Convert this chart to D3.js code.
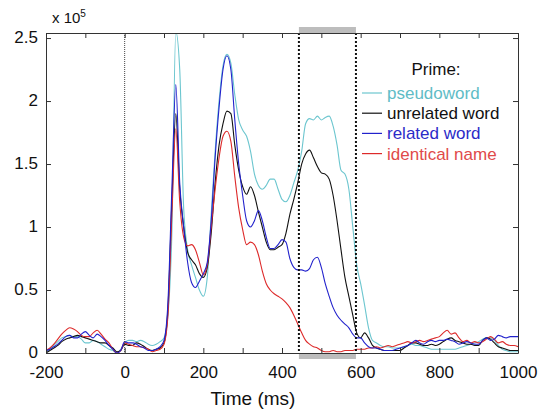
<!DOCTYPE html>
<html>
<head>
<meta charset="utf-8">
<script src="https://cdn.jsdelivr.net/npm/d3@7"></script>
<style>
  body { margin: 0; background: #fff; }
  text { font-family: "Liberation Sans", Arial, sans-serif; }
</style>
</head>
<body>
<svg></svg>
<script>
const margins = {t: 33, r: 21, b: 58, l: 46};
const size = {w: 539, h: 411};

// time grid, ms (every 10 ms)
const times = d3.range(-200, 1001, 10);

// values in units of 10^5
const pseudoword = [
  0.01, 0.03, 0.06, 0.09, 0.12, 0.13, 0.14, 0.13, 0.13, 0.11,
  0.08, 0.08, 0.10, 0.09, 0.07, 0.05, 0.03, 0.02, 0.00, 0.03,
  0.08, 0.10, 0.10, 0.09, 0.10, 0.09, 0.07, 0.06, 0.07, 0.09,
  0.12, 0.30, 0.95, 2.55, 2.25, 1.15, 0.82, 0.70, 0.60, 0.50,
  0.45, 0.60, 1.10, 1.60, 2.00, 2.28, 2.37, 2.30, 2.05, 1.85,
  1.77, 1.72, 1.60, 1.42, 1.33, 1.30, 1.33, 1.38, 1.38, 1.30,
  1.22, 1.20, 1.25, 1.35, 1.45, 1.60, 1.82, 1.86, 1.85, 1.88,
  1.85, 1.87, 1.88, 1.80, 1.65, 1.45, 1.42, 1.30, 1.00, 0.70,
  0.55, 0.38, 0.20, 0.10, 0.08, 0.06, 0.05, 0.05, 0.04, 0.04,
  0.04, 0.05, 0.06, 0.07, 0.06, 0.06, 0.05, 0.04, 0.03, 0.03,
  0.03, 0.03, 0.03, 0.03, 0.03, 0.04, 0.05, 0.06, 0.07, 0.08,
  0.09, 0.11, 0.12, 0.12, 0.10, 0.06, 0.03, 0.02, 0.01, 0.01,
  0.01
];
const unrelatedWord = [
  0.00, 0.02, 0.04, 0.06, 0.09, 0.11, 0.12, 0.13, 0.14, 0.13,
  0.12, 0.11, 0.10, 0.09, 0.08, 0.08, 0.06, 0.04, 0.01, 0.02,
  0.07, 0.06, 0.06, 0.08, 0.07, 0.05, 0.03, 0.02, 0.03, 0.04,
  0.08, 0.35, 1.20, 1.90, 1.30, 1.00, 0.80, 0.74, 0.70, 0.63,
  0.60, 0.68, 0.95, 1.35, 1.65, 1.82, 1.92, 1.90, 1.65, 1.45,
  1.32, 1.26, 1.32, 1.25, 1.12, 1.00, 0.88, 0.82, 0.82, 0.84,
  0.86, 0.95, 1.10, 1.22, 1.35, 1.50, 1.58, 1.61, 1.55, 1.48,
  1.43, 1.42, 1.38, 1.25, 1.05, 0.82, 0.60, 0.45, 0.30, 0.16,
  0.12, 0.16, 0.12, 0.06, 0.04, 0.03, 0.02, 0.02, 0.02, 0.02,
  0.02, 0.04, 0.06, 0.08, 0.08, 0.07, 0.06, 0.06, 0.07, 0.06,
  0.07, 0.09, 0.11, 0.12, 0.10, 0.09, 0.08, 0.07, 0.07, 0.06,
  0.06, 0.10, 0.12, 0.11, 0.08, 0.05, 0.04, 0.03, 0.02, 0.02,
  0.02
];
const relatedWord = [
  0.02, 0.03, 0.05, 0.07, 0.10, 0.13, 0.14, 0.12, 0.12, 0.15,
  0.17, 0.14, 0.12, 0.15, 0.13, 0.10, 0.06, 0.03, 0.00, 0.02,
  0.09, 0.08, 0.08, 0.07, 0.05, 0.04, 0.02, 0.02, 0.03, 0.05,
  0.10, 0.40, 1.30, 2.13, 1.35, 1.00, 0.72, 0.56, 0.52, 0.57,
  0.63, 0.72, 1.05, 1.55, 1.95, 2.25, 2.36, 2.25, 1.85, 1.50,
  1.25, 1.05, 1.00, 1.05, 1.13, 1.05, 0.92, 0.83, 0.83, 0.86,
  0.90, 0.88, 0.75, 0.68, 0.66, 0.66, 0.65, 0.67, 0.74, 0.76,
  0.68, 0.55, 0.45, 0.36, 0.30, 0.26, 0.23, 0.20, 0.15, 0.12,
  0.12, 0.08, 0.05, 0.04, 0.04, 0.03, 0.02, 0.02, 0.02, 0.03,
  0.04, 0.05, 0.06, 0.08, 0.10, 0.08, 0.07, 0.09, 0.10, 0.09,
  0.10, 0.10, 0.11, 0.10, 0.09, 0.07, 0.08, 0.09, 0.08, 0.07,
  0.07, 0.10, 0.12, 0.10, 0.11, 0.14, 0.13, 0.12, 0.13, 0.13,
  0.13
];
const identicalName = [
  0.02, 0.04, 0.07, 0.11, 0.15, 0.18, 0.20, 0.19, 0.17, 0.14,
  0.13, 0.13, 0.16, 0.18, 0.15, 0.11, 0.08, 0.03, 0.00, 0.02,
  0.08, 0.07, 0.06, 0.05, 0.05, 0.04, 0.03, 0.01, 0.02, 0.03,
  0.07, 0.30, 1.10, 1.78, 1.20, 0.92, 0.85, 0.86, 0.82, 0.72,
  0.62, 0.70, 1.00, 1.30, 1.55, 1.72, 1.76, 1.68, 1.40, 1.15,
  0.98, 0.86, 0.88, 0.86, 0.78, 0.65, 0.55, 0.50, 0.47, 0.45,
  0.43, 0.40, 0.36, 0.30, 0.23, 0.16, 0.10, 0.07, 0.05, 0.04,
  0.02, 0.01, 0.01, 0.02, 0.01, 0.01, 0.02, 0.02, 0.02, 0.03,
  0.03, 0.03, 0.04, 0.04, 0.05, 0.04, 0.05, 0.06, 0.05, 0.06,
  0.07, 0.08, 0.09, 0.08, 0.09, 0.10, 0.09, 0.10, 0.11, 0.12,
  0.13, 0.16, 0.18, 0.15, 0.16, 0.12, 0.09, 0.10, 0.08, 0.09,
  0.08, 0.09, 0.11, 0.13, 0.11, 0.08, 0.09, 0.07, 0.06, 0.06,
  0.05
];

const seriesNames = ['pseudoword', 'unrelated word', 'related word', 'identical name'];
const seriesValues = [pseudoword, unrelatedWord, relatedWord, identicalName];
const lineColors = ['#6cc6cf', '#111111', '#2222cc', '#dd2a2a'];
const textColors = ['#5fbcc6', '#111111', '#2b2bc8', '#e04a4a'];

const xTicks = d3.range(-200, 1001, 100);
const xLabels = [-200, 0, 200, 400, 600, 800, 1000];
const yTicks = [0, 0.5, 1, 1.5, 2, 2.5];
const markers = [0, 443, 588];   // dotted verticals, ms
const window_ = [443, 588];       // grey analysis window, ms

const svg = d3.select('svg')
    .attr('width', size.w)
    .attr('height', size.h);

const x = d3.scaleLinear()
    .domain([-200, 1000])
    .range([margins.l, size.w - margins.r]);
const y = d3.scaleLinear()
    .domain([0, 2.54])
    .range([size.h - margins.b, margins.t]);

svg.append('defs').append('clipPath').attr('id', 'plot')
    .append('rect')
    .attr('x', x(-200)).attr('y', y(2.54))
    .attr('width', x(1000) - x(-200)).attr('height', y(0) - y(2.54));

// grey window bars
svg.append('rect')
    .attr('x', x(window_[0])).attr('width', x(window_[1]) - x(window_[0]))
    .attr('y', y(2.54) - 6).attr('height', 6)
    .attr('fill', '#bdbdbd');
svg.append('rect')
    .attr('x', x(window_[0])).attr('width', x(window_[1]) - x(window_[0]))
    .attr('y', y(0)).attr('height', 6)
    .attr('fill', '#bdbdbd');

// lines
const line = d3.line()
    .x((d, i) => x(times[i]))
    .y(d => y(d))
    .curve(d3.curveMonotoneX);

const linesG = svg.append('g').attr('clip-path', 'url(#plot)');
// draw order: pseudoword, unrelated, identical, related on top
[0, 1, 3, 2].forEach(k => {
    linesG.append('path')
        .datum(seriesValues[k])
        .attr('fill', 'none')
        .attr('stroke', lineColors[k])
        .attr('stroke-width', 1.1)
        .attr('d', line);
});

// dotted verticals
svg.selectAll('line.marker')
    .data(markers)
    .join('line')
    .attr('class', 'marker')
    .attr('x1', d => x(d)).attr('x2', d => x(d))
    .attr('y1', y(2.54)).attr('y2', y(0))
    .attr('stroke', d => d === 0 ? '#444' : '#111')
    .attr('stroke-width', d => d === 0 ? 1 : 2)
    .attr('stroke-dasharray', d => d === 0 ? '1,1' : '2,2');

// axes (ticks inward, mirrored on top / right)
const axisColor = '#333';
const gx = svg.append('g')
    .attr('transform', `translate(0, ${y(0)})`)
    .call(d3.axisBottom(x).tickValues(xTicks).tickSizeInner(-5).tickSizeOuter(0)
        .tickFormat(d => xLabels.includes(d) ? d : ''));
const gxTop = svg.append('g')
    .attr('transform', `translate(0, ${y(2.54)})`)
    .call(d3.axisTop(x).tickValues(xTicks).tickSizeInner(-5).tickSizeOuter(0).tickFormat(''));
const gy = svg.append('g')
    .attr('transform', `translate(${x(-200)}, 0)`)
    .call(d3.axisLeft(y).tickValues(yTicks).tickSizeInner(-5).tickSizeOuter(0)
        .tickFormat(d3.format('~g')));
const gyRight = svg.append('g')
    .attr('transform', `translate(${x(1000)}, 0)`)
    .call(d3.axisRight(y).tickValues(yTicks).tickSizeInner(-5).tickSizeOuter(0).tickFormat(''));

[gx, gxTop, gy, gyRight].forEach(g => {
    g.select('.domain').attr('stroke', axisColor);
    g.selectAll('.tick line').attr('stroke', axisColor);
    g.selectAll('.tick text')
        .attr('fill', '#111')
        .style('font-size', '17px')
        .style('font-family', '"Liberation Sans", Arial, sans-serif');
});
gx.selectAll('.tick text').attr('y', 13);
gy.selectAll('.tick text').attr('x', -8).attr('dy', '0.25em');

// axis labels
svg.append('text')
    .attr('x', 253).attr('y', 405)
    .attr('text-anchor', 'middle')
    .style('font-size', '19px')
    .attr('fill', '#111')
    .text('Time (ms)');

const expo = svg.append('text')
    .attr('x', 52).attr('y', 23)
    .style('font-size', '15px')
    .attr('fill', '#111');
expo.append('tspan').text('x 10');
expo.append('tspan').attr('dy', -6).style('font-size', '10px').text('5');

// legend
const legend = svg.append('g');
legend.append('text')
    .attr('x', 436).attr('y', 75)
    .attr('text-anchor', 'middle')
    .style('font-size', '17px')
    .attr('fill', '#111')
    .text('Prime:');

const rows = legend.selectAll('g.row')
    .data(seriesNames)
    .join('g')
    .attr('class', 'row')
    .attr('transform', (d, i) => `translate(0, ${99 + i * 20.2})`);
rows.append('line')
    .attr('x1', 362).attr('x2', 382)
    .attr('y1', -6).attr('y2', -6)
    .attr('stroke', (d, i) => lineColors[i])
    .attr('stroke-width', 1.2);
rows.append('text')
    .attr('x', 387)
    .style('font-size', '17px')
    .attr('fill', (d, i) => textColors[i])
    .text(d => d);
</script>
</body>
</html>
